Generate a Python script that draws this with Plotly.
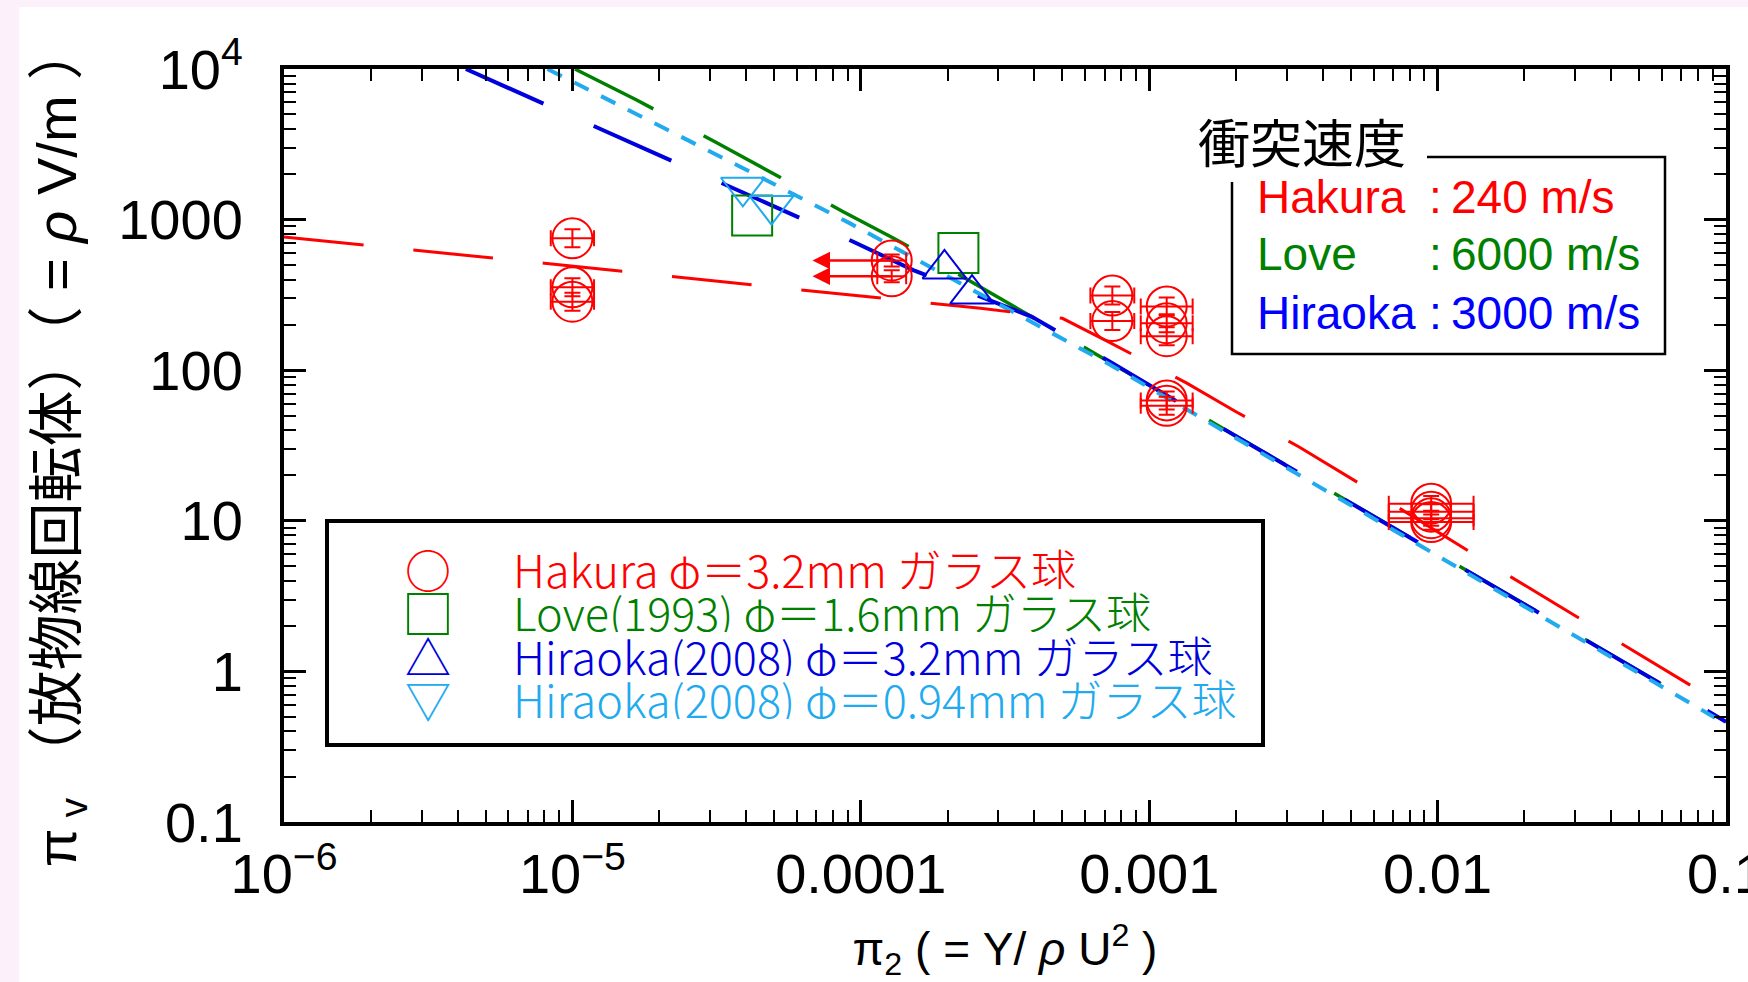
import math
import plotly.graph_objects as go

# ---------------- data ----------------
# Hakura experiment (phi = 3.2 mm glass spheres)
hakura_x = [1.0e-5, 1.0e-5, 1.0e-5, 1.28e-4, 1.28e-4, 7.45e-4, 7.45e-4,
            1.15e-3, 1.15e-3, 1.15e-3, 1.15e-3, 1.15e-3,
            9.5e-3, 9.5e-3, 9.5e-3, 9.5e-3]
hakura_y = [752, 355, 285, 535, 420, 313, 212,
            265, 205, 168, 63, 58,
            13.0, 11.5, 10.4, 9.8]
# error half-widths in decades
hakura_xerr_dex = [0.075, 0.075, 0.075, 0.05, 0.05, 0.076, 0.076,
                   0.09, 0.09, 0.09, 0.09, 0.09,
                   0.147, 0.147, 0.147, 0.147]
hakura_yerr_dex = [0.06, 0.06, 0.06, 0.04, 0.04, 0.06, 0.06,
                   0.06, 0.06, 0.06, 0.06, 0.06,
                   0.05, 0.05, 0.05, 0.05]
# upper-limit arrows (points at 1.28e-4 pointing to smaller pi2)
arrow_from_x = 1.28e-4
arrow_to_x = 6.8e-5
arrow_y = [535, 420]

# Love (1993), phi = 1.6 mm
love_x = [4.2e-5, 2.18e-4]
love_y = [1064, 600]

# Hiraoka (2008), phi = 3.2 mm
hir32_x = [1.95e-4, 2.43e-4]
hir32_y = [470, 320]

# Hiraoka (2008), phi = 0.94 mm
hir094_x = [3.9e-5, 4.9e-5]
hir094_y = [1640, 1240]

# model curves
red_x = [1e-6, 8.0e-6, 6.2e-5, 2.6e-4, 5.0e-4, 7.2e-4, 1.35e-3, 2.0e-3, 3.3e-3,
         5.6e-3, 1.6e-2, 2.9e-2, 0.1]
red_y = [766, 513, 341, 258, 221, 155, 82, 53, 31, 16.8, 4.84, 2.43, 0.583]

blue_x = [4.27e-6, 1.83e-5, 9.42e-5, 1.52e-4, 3.92e-4, 7.31e-4, 1.46e-3, 0.1]
blue_y = [1e4, 2897, 713, 462, 226, 114, 51.8, 0.463]

cyan_x = [8.2e-6, 1.18e-5, 4.02e-5, 9.18e-5, 2.88e-4, 7.24e-4, 0.1]
cyan_y = [1e4, 7031, 2133, 944, 285, 110, 0.447]

green_x = [1.02e-5, 1.67e-5, 3.12e-5, 4.66e-5, 8.69e-5, 1.30e-4, 1.83e-4, 3.92e-4, 0.1]
green_y = [1e4, 6223, 3289, 2158, 1127, 752, 525, 226, 0.463]

x_tickvals = [1e-6, 1e-5, 1e-4, 1e-3, 1e-2, 1e-1]
x_ticktext = ["10<sup>−6</sup>", "10<sup>−5</sup>", "0.0001", "0.001", "0.01", "0.1"]
y_tickvals = [0.1, 1, 10, 100, 1000, 10000]
y_ticktext = ["0.1", "1", "10", "100", "1000", "10<sup>4</sup>"]

legend_labels = ["Hakura φ＝3.2mm ガラス球",
                 "Love(1993) φ＝1.6mm ガラス球",
                 "Hiraoka(2008) φ＝3.2mm ガラス球",
                 "Hiraoka(2008) φ＝0.94mm ガラス球"]
legend_symbols = ["○", "□", "△", "▽"]
speed_names = ["Hakura", "Love", "Hiraoka"]
speed_values = [":\u2009240 m/s", ":\u20096000 m/s", ":\u20093000 m/s"]

# ---------------- styles ----------------
RED = "#ff0000"
GREEN = "#008000"
BLUE = "#0000dd"
CYAN = "#22aaee"
LAT = "Liberation Sans, Arial, Noto Sans CJK JP"
CJK = "Noto Sans CJK JP, Liberation Sans"

W, H = 1748, 982
L, R, T, B = 284, 22, 69, 160
PW, PH = W - L - R, H - T - B


def px(X):
    return (X - L) / PW


def py(Y):
    return (H - B - Y) / PH


fig = go.Figure()

# model curves
fig.add_trace(go.Scatter(x=green_x, y=green_y, mode="lines",
                         line=dict(color=GREEN, width=3.5, dash="88px,57px"),
                         showlegend=False, hoverinfo="skip"))
fig.add_trace(go.Scatter(x=blue_x, y=blue_y, mode="lines",
                         line=dict(color=BLUE, width=4, dash="85px,55px"),
                         showlegend=False, hoverinfo="skip"))
fig.add_trace(go.Scatter(x=cyan_x, y=cyan_y, mode="lines",
                         line=dict(color=CYAN, width=4, dash="16px,14px"),
                         showlegend=False, hoverinfo="skip"))
fig.add_trace(go.Scatter(x=red_x, y=red_y, mode="lines",
                         line=dict(color=RED, width=3, dash="80px,50px"),
                         showlegend=False, hoverinfo="skip"))

# error bar lengths from decades
ex_p = [x * (10 ** d - 1) for x, d in zip(hakura_x, hakura_xerr_dex)]
ex_m = [x * (1 - 10 ** -d) for x, d in zip(hakura_x, hakura_xerr_dex)]
ey_p = [y * (10 ** d - 1) for y, d in zip(hakura_y, hakura_yerr_dex)]
ey_m = [y * (1 - 10 ** -d) for y, d in zip(hakura_y, hakura_yerr_dex)]

fig.add_trace(go.Scatter(
    x=hakura_x, y=hakura_y, mode="markers", name="Hakura",
    marker=dict(symbol="circle-open", size=40, color=RED, line=dict(width=2, color=RED)),
    error_x=dict(type="data", symmetric=False, array=ex_p, arrayminus=ex_m,
                 color=RED, thickness=2, width=8),
    error_y=dict(type="data", symmetric=False, array=ey_p, arrayminus=ey_m,
                 color=RED, thickness=2, width=8),
    showlegend=False))
fig.add_trace(go.Scatter(
    x=love_x, y=love_y, mode="markers", name="Love",
    marker=dict(symbol="square-open", size=40, color=GREEN, line=dict(width=2, color=GREEN)),
    showlegend=False))
fig.add_trace(go.Scatter(
    x=hir32_x, y=hir32_y, mode="markers", name="Hiraoka 3.2",
    marker=dict(symbol="triangle-up-open", size=38, color=BLUE, line=dict(width=2, color=BLUE)),
    showlegend=False))
fig.add_trace(go.Scatter(
    x=hir094_x, y=hir094_y, mode="markers", name="Hiraoka 0.94",
    marker=dict(symbol="triangle-down-open", size=38, color=CYAN, line=dict(width=2, color=CYAN)),
    showlegend=False))

annotations = []
for yv in arrow_y:
    annotations.append(dict(
        x=math.log10(arrow_to_x), y=math.log10(yv), xref="x", yref="y",
        ax=math.log10(arrow_from_x), ay=math.log10(yv), axref="x", ayref="y",
        showarrow=True, arrowhead=2, arrowsize=1.4, arrowwidth=2.5,
        arrowcolor=RED, text=""))

# lower legend (symbol glyphs + labels)
leg_colors = [RED, GREEN, BLUE, CYAN]
leg_rows = [568, 611, 655, 698]
leg_sym_sizes = [46, 52, 46, 46]
for sym, lab, col, yy, ss in zip(legend_symbols, legend_labels, leg_colors, leg_rows, leg_sym_sizes):
    annotations.append(dict(x=px(428), y=py(yy), xref="paper", yref="paper",
                            text=sym, showarrow=False, xanchor="center", yanchor="middle",
                            font=dict(family=CJK, size=ss, color=col)))
    annotations.append(dict(x=px(511), y=py(yy), xref="paper", yref="paper",
                            text=lab, showarrow=False, xanchor="left", yanchor="middle",
                            height=42, valign="middle",
                            font=dict(family=CJK, size=45, color=col, weight=300)))

# upper speed box
annotations.append(dict(x=px(1196), y=py(140), xref="paper", yref="paper",
                        text="衝突速度", showarrow=False, xanchor="left", yanchor="middle",
                        font=dict(family=CJK, size=52, color="black")))
sp_colors = [RED, GREEN, "#0000ff"]
sp_rows = [197, 254, 313]
for nm, vl, col, yy in zip(speed_names, speed_values, sp_colors, sp_rows):
    annotations.append(dict(x=px(1255), y=py(yy), xref="paper", yref="paper",
                            text=nm, showarrow=False, xanchor="left", yanchor="middle",
                            font=dict(family=LAT, size=46, color=col)))
    annotations.append(dict(x=px(1427), y=py(yy), xref="paper", yref="paper",
                            text=vl, showarrow=False, xanchor="left", yanchor="middle",
                            font=dict(family=LAT, size=46, color=col)))

shapes = [
    # white page over pink border
    dict(type="rect", xref="paper", yref="paper", x0=px(19), x1=px(W + 5),
         y0=py(H + 5), y1=py(7), fillcolor="white", line=dict(width=0), layer="below"),
    # lower legend box
    dict(type="rect", xref="paper", yref="paper", x0=px(327), x1=px(1263),
         y0=py(745), y1=py(521), line=dict(color="black", width=4)),
    # upper box with gap for title
    dict(type="path", xref="paper", yref="paper",
         path=f"M {px(1427)},{py(157)} L {px(1665)},{py(157)} L {px(1665)},{py(354)} "
              f"L {px(1232)},{py(354)} L {px(1232)},{py(182)}",
         line=dict(color="black", width=2.5)),
]

minor_x = [m * 10 ** e for e in range(-6, -1) for m in range(2, 10)]
minor_y = [m * 10 ** e for e in range(-1, 4) for m in range(2, 10)]

axis_common = dict(showgrid=False, zeroline=False, showline=True, linecolor="black",
                   linewidth=4, mirror="allticks", ticks="inside", ticklen=22,
                   tickwidth=2.5, tickcolor="black", ticklabeloverflow="allow",
                   automargin=False,
                   tickfont=dict(family=LAT, size=56, color="black"))

fig.update_layout(
    width=W, height=H, autosize=False,
    margin=dict(l=L, r=R, t=T, b=B, pad=0),
    paper_bgcolor="#fcf1fa", plot_bgcolor="white",
    showlegend=False,
    annotations=annotations, shapes=shapes,
    xaxis=dict(type="log", range=[-6, -1], tickmode="array", tickvals=x_tickvals,
               ticktext=x_ticktext, ticklabelstandoff=0,
               minor=dict(tickmode="array", tickvals=minor_x, ticks="inside",
                          ticklen=12, tickwidth=2, tickcolor="black", showgrid=False),
               title=dict(text="π<sub>2</sub> ( = Y/ <i>ρ</i> U<sup>2</sup> )",
                          font=dict(family=LAT, size=46, color="black"), standoff=40),
               **axis_common),
    yaxis=dict(type="log", range=[-1, 4], tickmode="array", tickvals=y_tickvals,
               ticktext=y_ticktext, ticklabelstandoff=26,
               minor=dict(tickmode="array", tickvals=minor_y, ticks="inside",
                          ticklen=12, tickwidth=2, tickcolor="black", showgrid=False),
               title=dict(text="π<sub> v</sub> （放物線回転体）（ = <i>ρ</i> V/m ）",
                          font=dict(family=LAT + ", " + CJK, size=56, color="black"),
                          standoff=25),
               **axis_common),
)

fig.write_html("out.html", config={"displayModeBar": False},
               post_script="document.body.style.margin='0';")
